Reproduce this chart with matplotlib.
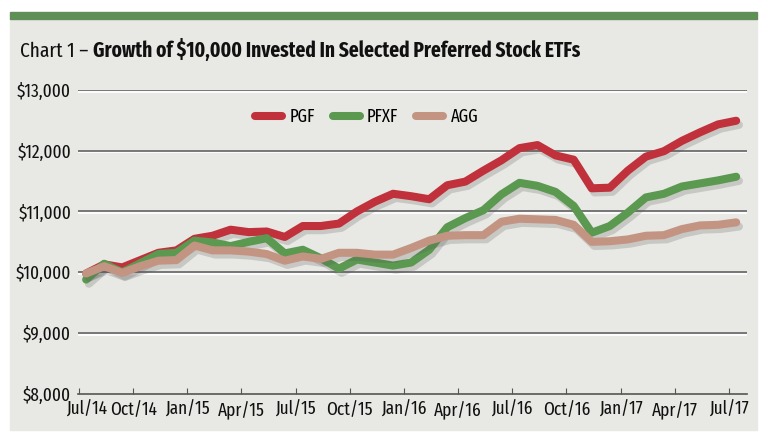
import matplotlib.pyplot as plt
import matplotlib.patheffects as pe
import matplotlib.transforms as mtrans
from matplotlib.patches import Rectangle

months = list(range(37))
tick_labels = ['Jul/14', 'Oct/14', 'Jan/15', 'Apr/15', 'Jul/15', 'Oct/15', 'Jan/16',
               'Apr/16', 'Jul/16', 'Oct/16', 'Jan/17', 'Apr/17', 'Jul/17']

pgf = [9980, 10130, 10080, 10200, 10320, 10360, 10550, 10600, 10700, 10660,
       10670, 10580, 10760, 10760, 10800, 11000, 11160, 11290, 11250, 11200,
       11430, 11490, 11670, 11840, 12040, 12090, 11920, 11850, 11380, 11390,
       11670, 11900, 11990, 12160, 12300, 12430, 12490]
pfxf = [9880, 10140, 10000, 10150, 10300, 10320, 10520, 10490, 10430, 10500,
        10560, 10310, 10370, 10230, 10060, 10210, 10160, 10110, 10160, 10370,
        10740, 10890, 11020, 11280, 11470, 11420, 11320, 11090, 10650, 10760,
        10980, 11230, 11290, 11410, 11460, 11510, 11570]
agg = [9980, 10100, 9990, 10100, 10190, 10200, 10440, 10360, 10360, 10340,
       10300, 10190, 10260, 10220, 10320, 10320, 10290, 10290, 10400, 10520,
       10600, 10610, 10610, 10830, 10880, 10870, 10860, 10780, 10500, 10510,
       10540, 10600, 10610, 10710, 10770, 10780, 10820]

series = [('PGF', pgf, '#c0313c'), ('PFXF', pfxf, '#5b9850'), ('AGG', agg, '#c49483')]

plt.rcParams['font.family'] = ['Fira Sans Extra Condensed', 'Asap Condensed', 'DejaVu Sans']

fig = plt.figure(figsize=(7.7, 4.42), dpi=100)
W, H = 770, 442
# panel background and green bar
fig.patches.append(Rectangle((10 / W, 1 - 430 / H), 747 / W, (430 - 18) / H,
                             transform=fig.transFigure, color='#e8e9e4', zorder=-10))
fig.patches.append(Rectangle((10 / W, 1 - 18.5 / H), 747 / W, 6.5 / H,
                             transform=fig.transFigure, color='#5f8f56', zorder=-10))

# title: regular part + bold part
t1 = fig.text(20 / W, 1 - 57 / H, 'Chart 1 \u2013 ', fontsize=21, va='baseline', color='#111111')
t2 = fig.text(0, 1 - 57 / H, 'Growth of $10,000 Invested In Selected Preferred Stock ETFs',
              fontsize=21, fontweight='bold', va='baseline', color='#111111')
fig.canvas.draw()
total = t1.get_window_extent().width + t2.get_window_extent().width
fs = min(22, 21 * 560 / total)
t1.set_fontsize(fs)
t2.set_fontsize(fs)
fig.canvas.draw()
t2.set_x(t1.get_window_extent().x1 / W)

ax = fig.add_axes([78 / W, 1 - 394 / H, (747 - 78) / W, (394 - 89.7) / H])
ax.set_facecolor('none')
ax.set_xlim(-0.05, 37.0)
ax.set_ylim(8000, 13000)

grid_fx = [pe.SimpleLineShadow(offset=(0, -1.3), shadow_color='white', alpha=1), pe.Normal()]
for v in [9000, 10000, 11000, 12000, 13000]:
    ax.axhline(v, color='#6e6e6e', lw=1.3, zorder=1, path_effects=grid_fx)

x = [m + 0.4 for m in months]
line_fx = [pe.SimpleLineShadow(offset=(2, -3), shadow_color='#555555', alpha=0.22), pe.Normal()]
for k, (name, vals, col) in enumerate(series):
    ax.plot(x, vals, color=col, lw=5.8, label=name, solid_capstyle='round',
            solid_joinstyle='round', zorder=3 + k, path_effects=line_fx)

for s in ['top', 'right', 'left']:
    ax.spines[s].set_visible(False)
ax.spines['bottom'].set_color('#555555')
ax.spines['bottom'].set_linewidth(1.2)

ax.set_xticks(range(0, 37, 3))
ax.set_xticklabels(tick_labels)
ax.set_yticks([8000, 9000, 10000, 11000, 12000, 13000])
ax.set_yticklabels(['$8,000', '$9,000', '$10,000', '$11,000', '$12,000', '$13,000'])
ax.tick_params(axis='x', direction='in', length=4, color='#555555', labelsize=13.5,
               labelcolor='#111111', pad=5)
ax.tick_params(axis='y', length=0, labelsize=13.5, labelcolor='#111111', pad=5)
# first x label nudged right, clear of the $8,000 label
first = ax.get_xticklabels()[0]
first.set_transform(first.get_transform() + mtrans.ScaledTranslation(8 / 100, 0, fig.dpi_scale_trans))

leg = fig.legend(loc='center left', bbox_to_anchor=(255 / W, 1 - 117 / H), ncol=3, frameon=False,
                 fontsize=13, handlelength=1.5, columnspacing=1.0, handletextpad=0.4,
                 borderpad=0, borderaxespad=0)
for h in leg.get_lines():
    h.set_path_effects([])
    h.set_linewidth(5.8)
    h.set_solid_capstyle('round')

fig.savefig('out.png', dpi=100)
